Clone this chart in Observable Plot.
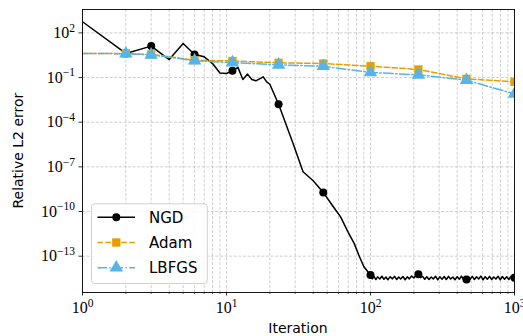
<!DOCTYPE html>
<html>
<head>
<meta charset="utf-8">
<script src="https://cdn.jsdelivr.net/npm/d3@7"></script>
<script src="https://cdn.jsdelivr.net/npm/@observablehq/plot@0.6"></script>
<style>
  html, body { margin: 0; padding: 0; background: #fff; }
  #chart { width: 523px; height: 336px; position: relative; }
</style>
</head>
<body>
<div id="chart"></div>
<script>
// ---------------- data ----------------
const ngdIter = [1, 2, 3, 4, 5, 6, 7, 8, 9, 10, 11, 12, 13, 14, 15, 16, 18, 19, 20, 23,
  29, 34, 40, 47, 55, 62, 70, 77, 84, 90,
  100, 103, 106, 109, 112, 116, 120, 124, 128, 132, 137, 142, 147, 152, 157, 162, 168, 174, 180, 186,
  193, 200, 207, 215, 222, 230, 238, 246, 255, 264, 273, 283, 293, 303, 314, 325, 336, 348, 360, 373,
  386, 400, 414, 428, 443, 455, 464, 475, 492, 509, 527, 545, 564, 584, 605, 626, 648, 671, 694, 718,
  743, 769, 796, 824, 853, 883, 914, 946, 979, 1000];
const ngdErr = [560, 4.17, 12.9, 1.62, 19.5, 3.55, 2.45, 0.87, 0.204, 0.186, 0.282, 0.479, 0.0741, 0.170, 0.0741, 0.0603, 0.112, 0.0513, 0.0355, 1.62e-3,
  3.72e-6, 4.68e-8, 1.17e-8, 1.91e-9, 2.19e-10, 4.37e-11, 3.98e-12, 7.24e-13, 8.71e-14, 1.95e-14,
  5.37e-15, 3.0e-15, 4.3e-15, 2.7e-15, 4.1e-15, 2.9e-15, 4.5e-15, 2.8e-15, 4.0e-15, 2.6e-15, 4.2e-15, 3.0e-15, 4.4e-15, 2.7e-15, 4.0e-15, 2.9e-15, 4.3e-15, 2.6e-15, 4.1e-15, 3.0e-15,
  4.6e-15, 3.4e-15, 5.2e-15, 6.0e-15, 3.6e-15, 4.4e-15, 2.8e-15, 4.2e-15, 2.7e-15, 4.0e-15, 2.9e-15, 4.5e-15, 2.6e-15, 4.1e-15, 2.8e-15, 4.3e-15, 2.7e-15, 4.4e-15, 2.9e-15, 4.0e-15,
  2.6e-15, 4.2e-15, 2.8e-15, 4.5e-15, 2.7e-15, 3.9e-15, 2.7e-15, 4.3e-15, 2.8e-15, 4.4e-15, 2.7e-15, 4.1e-15, 2.9e-15, 4.6e-15, 2.6e-15, 4.2e-15, 2.8e-15, 4.4e-15, 2.7e-15, 4.0e-15,
  2.9e-15, 4.5e-15, 2.6e-15, 4.3e-15, 2.8e-15, 4.1e-15, 2.7e-15, 4.4e-15, 2.9e-15, 3.6e-15];

const markerIter = [2, 3, 6, 11, 23, 47, 100, 215, 464, 1000];

const adamIter = [1, 2, 3, 6, 11, 23, 47, 100, 215, 464, 1000];
const adamErr  = [4.17, 4.17, 3.55, 1.48, 1.29, 0.977, 0.871, 0.575, 0.347, 0.0813, 0.0513];

const lbfgsIter = [1, 2, 3, 6, 11, 23, 47, 100, 215, 464, 1000];
const lbfgsErr  = [4.17, 3.98, 3.39, 1.35, 1.0, 0.708, 0.575, 0.219, 0.151, 0.0661, 0.00794];

const seriesNames = ["NGD", "Adam", "LBFGS"];
const seriesColors = ["#000000", "#E69F00", "#56B4E9"];

const xMajorTicks = [1, 10, 100, 1000];
const xMajorLabels = ["0", "1", "2", "3"];
const xMinorTicks = [2, 3, 4, 5, 6, 7, 8, 9, 20, 30, 40, 50, 60, 70, 80, 90, 200, 300, 400, 500, 600, 700, 800, 900];
const yTicks = [1e2, 1e-1, 1e-4, 1e-7, 1e-10, 1e-13];
const yTickLabels = ["2", "\u22121", "\u22124", "\u22127", "\u221210", "\u221213"];

const xLabel = "Iteration";
const yLabel = "Relative L2 error";

// ---------------- tables ----------------
const ngd = ngdIter.map((x, i) => ({iter: x, err: ngdErr[i]}));
const adam = adamIter.map((x, i) => ({iter: x, err: adamErr[i]}));
const lbfgs = lbfgsIter.map((x, i) => ({iter: x, err: lbfgsErr[i]}));
const onMarker = d => markerIter.includes(d.iter);

const gridStyle = {stroke: "#b0b0b0", strokeOpacity: 0.75, strokeWidth: 0.8, strokeDasharray: "3,1.6"};
const TICK_FONT = "Liberation Serif, DejaVu Serif, serif";
const SANS = "DejaVu Sans, sans-serif";

const chart = Plot.plot({
  width: 523,
  height: 336,
  marginLeft: 82,
  marginRight: 9,
  marginTop: 9,
  marginBottom: 44,
  style: {fontFamily: TICK_FONT, fontSize: "16px", background: "#fff", color: "#000"},
  x: {type: "log", domain: [1, 1000]},
  y: {type: "log", domain: [3.63e-16, 3.715e3]},
  marks: [
    Plot.ruleX(xMajorTicks.concat(xMinorTicks), gridStyle),
    Plot.ruleY(yTicks, gridStyle),
    Plot.axisX(xMinorTicks, {tickSize: 2, tickFormat: null, strokeWidth: 0.6, label: null}),
    Plot.axisX(xMajorTicks, {tickSize: 3.5, tickPadding: 6, strokeWidth: 0.8, label: null,
      tickFormat: d => "10^" + xMajorLabels[xMajorTicks.indexOf(d)]}),
    Plot.axisY(yTicks, {tickSize: 3.5, tickPadding: 4, strokeWidth: 0.8, label: null,
      tickFormat: d => "10^" + yTickLabels[yTicks.indexOf(d)]}),
    Plot.line(ngd, {x: "iter", y: "err", stroke: seriesColors[0], strokeWidth: 1.5, clip: true}),
    Plot.dot(ngd.filter(onMarker), {x: "iter", y: "err", symbol: "circle", r: 4, fill: seriesColors[0], stroke: "none", clip: true}),
    Plot.line(adam, {x: "iter", y: "err", stroke: seriesColors[1], strokeWidth: 1.5, strokeDasharray: "5.55,2.4", clip: true}),
    Plot.dot(adam.filter(onMarker), {x: "iter", y: "err", symbol: "square", r: 4.7, fill: seriesColors[1], stroke: "none", clip: true}),
    Plot.line(lbfgs, {x: "iter", y: "err", stroke: seriesColors[2], strokeWidth: 1.5, strokeDasharray: "9.6,2.4,1.5,2.4", clip: true}),
    Plot.dot(lbfgs.filter(onMarker), {x: "iter", y: "err", symbol: "triangle", r: 5, fill: seriesColors[2], stroke: "none", clip: true}),
    Plot.frame({stroke: "#000", strokeWidth: 0.9})
  ]
});

document.getElementById("chart").appendChild(chart);

// superscript tick labels: "10^e" -> 10 + raised exponent
const svg = d3.select(chart.tagName.toLowerCase() === "svg" ? chart : chart.querySelector("svg"));
svg.selectAll('g[aria-label="x-axis tick label"] text, g[aria-label="y-axis tick label"] text').each(function() {
  const t = this.textContent;
  if (!t.includes("^")) return;
  const [base, exp] = t.split("^");
  const sel = d3.select(this);
  sel.text(null);
  sel.append("tspan").text(base);
  sel.append("tspan").attr("dy", "-0.55em").attr("font-size", "11.5px").text(exp);
});

// axis labels
svg.append("text")
  .attr("x", 298).attr("y", 333)
  .attr("text-anchor", "middle")
  .attr("font-family", SANS).attr("font-size", 14)
  .text(xLabel);
svg.append("text")
  .attr("transform", "translate(23,150.6) rotate(-90)")
  .attr("text-anchor", "middle")
  .attr("font-family", SANS).attr("font-size", 14)
  .text(yLabel);

// legend (inside lower left)
const lg = svg.append("g").attr("transform", "translate(91.5,203.8)");
lg.append("rect").attr("width", 115.8).attr("height", 79.7).attr("rx", 3)
  .attr("fill", "#fff").attr("fill-opacity", 0.85).attr("stroke", "#cccccc").attr("stroke-width", 0.9);
const dashes = [null, "5.55,2.4", "9.6,2.4,1.5,2.4"];
const symbols = [d3.symbolCircle, d3.symbolSquare, d3.symbolTriangle];
const symSizes = [Math.PI * 16, Math.PI * 4.7 * 4.7, Math.PI * 25];
seriesNames.forEach((name, i) => {
  const cy = 13.5 + i * 25.2;
  lg.append("line").attr("x1", 6).attr("x2", 43.5).attr("y1", cy).attr("y2", cy)
    .attr("stroke", seriesColors[i]).attr("stroke-width", 1.5)
    .attr("stroke-dasharray", dashes[i]);
  lg.append("path").attr("d", d3.symbol(symbols[i], symSizes[i])())
    .attr("transform", `translate(24.8,${cy})`).attr("fill", seriesColors[i]);
  lg.append("text").attr("x", 57.5).attr("y", cy + 5.5)
    .attr("text-anchor", "start")
    .attr("font-family", SANS).attr("font-size", 15).text(name);
});
</script>
</body>
</html>
